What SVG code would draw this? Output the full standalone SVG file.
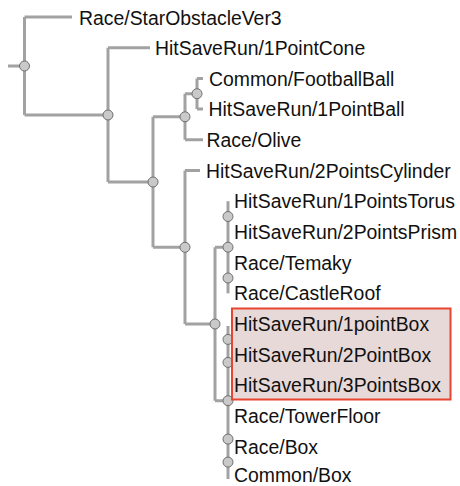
<svg xmlns="http://www.w3.org/2000/svg" width="460" height="486" viewBox="0 0 460 486">
<style>
.e{fill:none;stroke:#a2a2a2;stroke-width:3;stroke-linecap:butt}
.n{fill:#c9c9c9;stroke:#6f6f6f;stroke-width:1}
.t{font-family:"Liberation Sans",Arial,sans-serif;font-size:19.4px;fill:#111}
.hl{fill:#e8d9d9;stroke:#e8442e;stroke-width:2}
</style>
<rect width="460" height="486" fill="#ffffff"/>
<g id="connectors">
<path class="e" d="M8,66H24.5M24.5,17V115M24.5,17H72M24.5,115H108"/>
<path class="e" d="M108,47.7V182M108,47.7H150M108,182H153"/>
<path class="e" d="M153,116.8V247.3M153,116.8H185M153,247.3H185"/>
<path class="e" d="M185,93.7V139.8M185,93.7H197M185,139.8H203"/>
<path class="e" d="M197,78.4V109.1M197,78.4H203M197,109.1H203"/>
<path class="e" d="M185,170.5V324M185,170.5H200M185,324H215"/>
<path class="e" d="M215,247.2V400.7M215,247.2H228M215,400.7H228"/>
<path class="e" d="M228,201.2V293.3"/>
<path class="e" d="M228,326V479"/>
</g>
<g id="n_root"><circle class="n" cx="24.5" cy="66" r="5"/></g>
<g id="n1"><circle class="n" cx="108" cy="115" r="5"/></g>
<g id="n2"><circle class="n" cx="153" cy="182" r="5"/></g>
<g id="n3"><circle class="n" cx="185" cy="116.8" r="5"/></g>
<g id="n4"><circle class="n" cx="197" cy="93.7" r="5"/></g>
<g id="n5"><circle class="n" cx="185" cy="247.3" r="5"/></g>
<g id="n6"><circle class="n" cx="215" cy="324" r="5"/></g>
<g id="n7"><circle class="n" cx="228" cy="216.5" r="5"/></g>
<g id="n8"><circle class="n" cx="228" cy="247.2" r="5"/></g>
<g id="n9"><circle class="n" cx="228" cy="278" r="5"/></g>
<g id="n10"><circle class="n" cx="228" cy="339.4" r="5"/></g>
<g id="n11"><circle class="n" cx="228" cy="362.4" r="5"/></g>
<g id="n12"><circle class="n" cx="228" cy="400.7" r="5"/></g>
<g id="n13"><circle class="n" cx="228" cy="439.1" r="5"/></g>
<g id="n14"><circle class="n" cx="228" cy="462.1" r="5"/></g>
<rect id="highlight" class="hl" x="232" y="308.5" width="218.5" height="91"/>
<g id="leaf0"><text class="t" x="79" y="24.5">Race/StarObstacleVer3</text></g>
<g id="leaf1"><text class="t" x="155" y="55">HitSaveRun/1PointCone</text></g>
<g id="leaf2"><text class="t" x="209" y="85.5">Common/FootballBall</text></g>
<g id="leaf3"><text class="t" x="208.5" y="116">HitSaveRun/1PointBall</text></g>
<g id="leaf4"><text class="t" x="206.5" y="146.5">Race/Olive</text></g>
<g id="leaf5"><text class="t" x="206" y="177.5">HitSaveRun/2PointsCylinder</text></g>
<g id="leaf6"><text class="t" x="234" y="208">HitSaveRun/1PointsTorus</text></g>
<g id="leaf7"><text class="t" x="234" y="239">HitSaveRun/2PointsPrism</text></g>
<g id="leaf8"><text class="t" x="234" y="269.5">Race/Temaky</text></g>
<g id="leaf9"><text class="t" x="234" y="300">Race/CastleRoof</text></g>
<g id="leaf10"><text class="t" x="234" y="331">HitSaveRun/1pointBox</text></g>
<g id="leaf11"><text class="t" x="234" y="361.5">HitSaveRun/2PointBox</text></g>
<g id="leaf12"><text class="t" x="234" y="392">HitSaveRun/3PointsBox</text></g>
<g id="leaf13"><text class="t" x="234" y="423">Race/TowerFloor</text></g>
<g id="leaf14"><text class="t" x="234" y="453.5">Race/Box</text></g>
<g id="leaf15"><text class="t" x="234" y="481.5">Common/Box</text></g>
</svg>
